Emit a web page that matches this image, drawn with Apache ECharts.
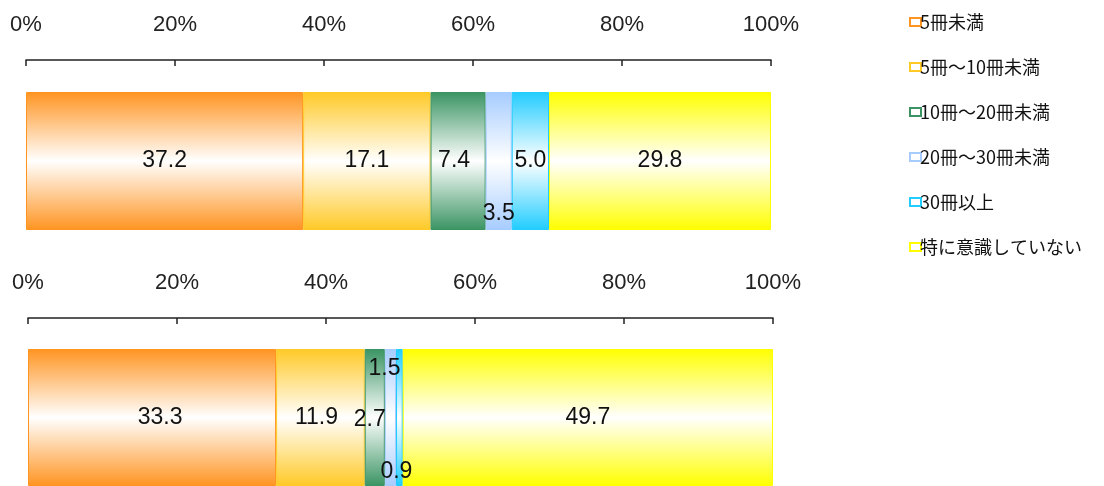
<!DOCTYPE html>
<html><head><meta charset="utf-8">
<script src="https://cdn.jsdelivr.net/npm/echarts@6/dist/echarts.min.js"></script>
<style>html,body{margin:0;padding:0;background:#fff}#c{width:1104px;height:486px}</style>
</head><body><div id="c"></div>
<script>
const categories = ['5冊未満','5冊～10冊未満','10冊～20冊未満','20冊～30冊未満','30冊以上','特に意識していない'];
const values1 = [37.2, 17.1, 7.4, 3.5, 5.0, 29.8];
const values2 = [33.3, 11.9, 2.7, 1.5, 0.9, 49.7];
const ticks = [0, 20, 40, 60, 80, 100];

const colors = ['#FF9421','#FFC926','#3A9463','#A6CCFF','#21CCFF','#FFFF00'];
const lblOffset1 = [[0,0],[0,0],[-4,0],[0,53],[0,0],[0,0]];
const lblOffset2 = [[8,0],[-4,0],[-5,2],[-6,-49],[-3,54],[0,0]];

function grad(c){
  return {type:'linear',x:0,y:0,x2:0,y2:1,colorStops:[{offset:0,color:c},{offset:0.5,color:'#ffffff'},{offset:1,color:c}]};
}
const font = 'Liberation Sans, DejaVu Sans, sans-serif';
const series = [];
[values1, values2].forEach((vals, gi) => {
  const offs = gi === 0 ? lblOffset1 : lblOffset2;
  categories.forEach((name, i) => {
    series.push({
      type:'bar', name, stack:'s'+gi, xAxisIndex:gi, yAxisIndex:gi,
      barWidth:'100%',
      data:[vals[i]],
      itemStyle:{color:grad(colors[i]), borderColor:colors[i], borderWidth:1},
      label:{show:true, position:'inside', offset:offs[i], color:'#111', fontSize:23, fontFamily:font,
        formatter:p=>p.value.toFixed(1)},
      emphasis:{disabled:true}, animation:false
    });
  });
});
const xAxisBase = (gi, off) => ({
  type:'value', gridIndex:gi, position:'top', offset:off, min:ticks[0], max:ticks[ticks.length-1], interval:ticks[1]-ticks[0],
  axisLine:{show:true, lineStyle:{color:'#222', width:1.5}},
  axisTick:{show:true, inside:true, length:6, lineStyle:{color:'#222', width:1.5}},
  axisLabel:{formatter:'{value}%', margin:24, fontSize:22, color:'#222', fontFamily:font},
  splitLine:{show:false}
});
const yAxisBase = gi => ({type:'category', gridIndex:gi, data:[''], inverse:true, show:false, boundaryGap:true});

const chart = echarts.init(document.getElementById('c'));
chart.setOption({
  animation:false,
  grid:[
    {left:26, right:333, top:92, height:138},
    {left:28, right:331, top:349, height:138}
  ],
  xAxis:[xAxisBase(0, 32), xAxisBase(1, 31)],
  yAxis:[yAxisBase(0), yAxisBase(1)],
  legend:{
    orient:'vertical', left:904, top:8, itemGap:27, itemWidth:11, itemHeight:8,
    icon:'rect',
    textStyle:{fontSize:18, color:'#111', fontFamily:'Noto Sans CJK JP', padding:[0,0,0,-6]},
    data: categories.map((n,i)=>({name:n, itemStyle:{color:'#fff', borderColor:colors[i], borderWidth:2}}))
  },
  series
});
</script></body></html>
